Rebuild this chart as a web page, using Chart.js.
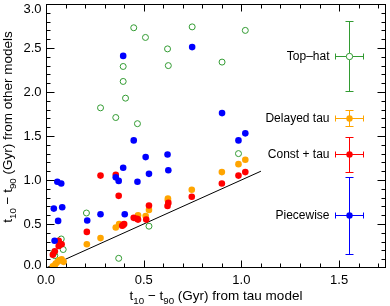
<!DOCTYPE html>
<html>
<head>
<meta charset="utf-8">
<script src="https://cdn.jsdelivr.net/npm/chart.js@4.4.1/dist/chart.umd.min.js"></script>
<style>
  html, body { margin: 0; padding: 0; background: #fff; }
  canvas { display: block; }
</style>
</head>
<body>
<canvas id="chart" width="390" height="306"></canvas>
<script>
// data (Gyr)
const topHatX = [0.449, 0.509, 0.395, 0.395, 0.407, 0.279, 0.357, 0.468, 0.622, 0.626, 0.748, 1.020, 0.901, 0.985, 0.207, 0.527, 0.372, 0.078, 0.088, 0.040, 0.045];
const topHatY = [2.73, 2.62, 2.29, 2.12, 1.93, 1.82, 1.71, 1.64, 2.49, 2.30, 2.74, 2.70, 2.34, 1.30, 0.625, 0.475, 0.11, 0.33, 0.21, 0.17, 0.14];

const delayedX = [1.020, 0.985, 0.900, 0.746, 0.624, 0.624, 0.527, 0.510, 0.471, 0.374, 0.357, 0.279, 0.209, 0.050, 0.060, 0.070, 0.080, 0.045, 0.090, 0.035];
const delayedY = [1.23, 1.18, 1.09, 0.89, 0.79, 0.77, 0.66, 0.59, 0.60, 0.50, 0.46, 0.34, 0.27, 0.05, 0.07, 0.09, 0.10, 0.03, 0.07, 0.02];

const constTauX = [0.985, 1.020, 0.900, 0.746, 0.626, 0.622, 0.527, 0.513, 0.471, 0.466, 0.449, 0.395, 0.400, 0.390, 0.372, 0.357, 0.279, 0.209, 0.065, 0.065, 0.080, 0.045, 0.035];
const constTauY = [1.05, 1.09, 0.96, 0.81, 0.74, 0.705, 0.71, 0.55, 0.55, 0.56, 0.57, 0.49, 0.50, 0.48, 0.82, 1.06, 1.05, 0.41, 0.31, 0.25, 0.27, 0.19, 0.15];

const pieceX = [0.395, 0.449, 0.748, 0.901, 1.020, 0.985, 0.510, 0.622, 0.527, 0.626, 0.395, 0.357, 0.372, 0.468, 0.058, 0.078, 0.040, 0.083, 0.062, 0.211, 0.279, 0.403, 0.044];
const pieceY = [2.41, 1.45, 2.51, 1.76, 1.53, 1.45, 1.26, 1.29, 1.07, 1.11, 1.14, 1.03, 0.99, 0.98, 0.98, 0.96, 0.675, 0.69, 0.535, 0.54, 0.61, 0.61, 0.31];

const oneToOneX = [0, 1.1];
const oneToOneY = [0, 1.1];

// key: symbol with typical error bars
const keyNames = ['Top\u2013hat', 'Delayed tau', 'Const + tau', 'Piecewise'];
const keyColors = ['rgb(50,155,50)', 'rgb(255,165,0)', 'rgb(255,0,0)', 'rgb(0,0,255)'];
const keyX = 1.55;
const keyXErr = 0.07;
const keyY = [2.41, 1.70, 1.30, 0.60];
const keyYLo = [2.01, 1.61, 1.09, 0.16];
const keyYHi = [2.81, 1.79, 1.49, 1.03];

const xTicks = [0.0, 0.5, 1.0, 1.5];
const yTicks = [0.0, 0.5, 1.0, 1.5, 2.0, 2.5, 3.0];

const FONT = '"Liberation Sans", Arial, Helvetica, sans-serif';

function pts(xs, ys) {
    return xs.map((x, i) => ({ x: x, y: ys[i] }));
}

function richWidth(ctx, parts, size) {
    let w = 0;
    parts.forEach(p => {
        ctx.font = (p.sub ? size * 0.72 : size) + 'px ' + FONT;
        w += ctx.measureText(p.t).width;
    });
    return w;
}

function drawRich(ctx, parts, x, y, size) {
    // centred on x, baseline at y
    let cx = x - richWidth(ctx, parts, size) / 2;
    ctx.textAlign = 'left';
    ctx.textBaseline = 'alphabetic';
    parts.forEach(p => {
        const s = p.sub ? size * 0.72 : size;
        ctx.font = s + 'px ' + FONT;
        ctx.fillText(p.t, cx, y + (p.sub ? size * 0.3 : 0));
        cx += ctx.measureText(p.t).width;
    });
}

const framePlugin = {
    id: 'frame',
    afterDatasetsDraw(chart) {
        const ctx = chart.ctx;
        const xs = chart.scales.x;
        const ys = chart.scales.y;
        const a = chart.chartArea;

        // key error bars
        ctx.save();
        ctx.lineWidth = 1;
        keyNames.forEach((name, i) => {
            const px = Math.round(xs.getPixelForValue(keyX)) + 0.5;
            const py = Math.round(ys.getPixelForValue(keyY[i])) + 0.5;
            const x0 = Math.round(xs.getPixelForValue(keyX - keyXErr)) + 0.5;
            const x1 = Math.round(xs.getPixelForValue(keyX + keyXErr)) + 0.5;
            const y0 = Math.round(ys.getPixelForValue(keyYLo[i])) + 0.5;
            const y1 = Math.round(ys.getPixelForValue(keyYHi[i])) + 0.5;
            ctx.strokeStyle = keyColors[i];
            ctx.beginPath();
            ctx.moveTo(x0, py); ctx.lineTo(x1, py);
            ctx.moveTo(x0, py - 3); ctx.lineTo(x0, py + 3);
            ctx.moveTo(x1, py - 3); ctx.lineTo(x1, py + 3);
            ctx.moveTo(px, y0); ctx.lineTo(px, y1);
            ctx.moveTo(px - 4, y0); ctx.lineTo(px + 4, y0);
            ctx.moveTo(px - 4, y1); ctx.lineTo(px + 4, y1);
            ctx.stroke();
            ctx.beginPath();
            ctx.arc(px, py, 3.2, 0, Math.PI * 2);
            if (i === 0) {
                ctx.fillStyle = '#fff';
                ctx.fill();
                ctx.stroke();
            } else {
                ctx.fillStyle = keyColors[i];
                ctx.fill();
            }
            ctx.fillStyle = '#000';
            ctx.font = '12px ' + FONT;
            ctx.textAlign = 'right';
            ctx.textBaseline = 'middle';
            ctx.fillText(name, x0 - 6, py);
        });
        ctx.restore();
    },
    afterDraw(chart) {
        const ctx = chart.ctx;
        const xs = chart.scales.x;
        const ys = chart.scales.y;
        const a = chart.chartArea;
        const L = Math.round(a.left) + 0.5, R = Math.round(a.right) - 0.5;
        const T = Math.round(a.top) + 0.5, B = Math.round(a.bottom) - 0.5;

        ctx.save();
        ctx.strokeStyle = '#000';
        ctx.lineWidth = 1;
        ctx.strokeRect(L, T, R - L, B - T);

        // inward ticks on all four sides
        ctx.beginPath();
        for (let k = 1; k * 0.1 < xs.max; k++) {
            const len = k % 5 === 0 ? 7 : 4;
            const px = Math.round(xs.getPixelForValue(k * 0.1)) + 0.5;
            ctx.moveTo(px, B); ctx.lineTo(px, B - len);
            ctx.moveTo(px, T); ctx.lineTo(px, T + len);
        }
        for (let k = 1; k < 30; k++) {
            const len = k % 5 === 0 ? 8 : 4;
            const py = Math.round(ys.getPixelForValue(k * 0.1)) + 0.5;
            ctx.moveTo(L, py); ctx.lineTo(L + len, py);
            ctx.moveTo(R, py); ctx.lineTo(R - len, py);
        }
        ctx.stroke();

        // tick labels
        ctx.fillStyle = '#000';
        ctx.font = '13px ' + FONT;
        ctx.textAlign = 'center';
        ctx.textBaseline = 'middle';
        xTicks.forEach(v => {
            ctx.fillText(v.toFixed(1), xs.getPixelForValue(v), B + 13);
        });
        ctx.textAlign = 'right';
        yTicks.forEach(v => {
            let py = ys.getPixelForValue(v);
            if (v === ys.max) py += 5;
            if (v === ys.min) py -= 3;
            ctx.fillText(v.toFixed(1), L - 5, py);
        });

        // axis titles
        drawRich(ctx, [
            { t: 't' }, { t: '10', sub: true }, { t: ' \u2212 t' }, { t: '90', sub: true },
            { t: ' (Gyr) from tau model' }
        ], (a.left + a.right) / 2, 300, 13.5);

        ctx.translate(12, 127);
        ctx.rotate(-Math.PI / 2);
        drawRich(ctx, [
            { t: 't' }, { t: '10', sub: true }, { t: ' \u2212 t' }, { t: '90', sub: true },
            { t: ' (Gyr) from other models' }
        ], 0, 0, 13.5);
        ctx.restore();
    }
};

const filled = (label, xs, ys, color) => ({
    label: label,
    data: pts(xs, ys),
    backgroundColor: color,
    borderColor: color,
    borderWidth: 0,
    pointRadius: 3.3,
    pointHoverRadius: 3.3
});

new Chart(document.getElementById('chart'), {
    type: 'scatter',
    data: {
        datasets: [
            filled('Piecewise', pieceX, pieceY, keyColors[3]),
            filled('Const + tau', constTauX, constTauY, keyColors[2]),
            filled('Delayed tau', delayedX, delayedY, keyColors[1]),
            {
                label: 'Top-hat',
                data: pts(topHatX, topHatY),
                backgroundColor: 'rgba(0,0,0,0)',
                borderColor: keyColors[0],
                borderWidth: 1,
                pointRadius: 3,
                pointHoverRadius: 3
            },
            {
                label: 'one-to-one',
                type: 'line',
                data: pts(oneToOneX, oneToOneY),
                showLine: true,
                borderColor: '#000',
                borderWidth: 1,
                pointRadius: 0,
                fill: false
            }
        ]
    },
    options: {
        responsive: false,
        animation: false,
        devicePixelRatio: 1,
        layout: { padding: { left: 46, right: 2, top: 2, bottom: 38 } },
        plugins: {
            legend: { display: false },
            tooltip: { enabled: false }
        },
        scales: {
            x: { type: 'linear', min: 0, max: 1.74, display: false },
            y: { type: 'linear', min: 0, max: 3.0, display: false }
        }
    },
    plugins: [framePlugin]
});
</script>
</body>
</html>
